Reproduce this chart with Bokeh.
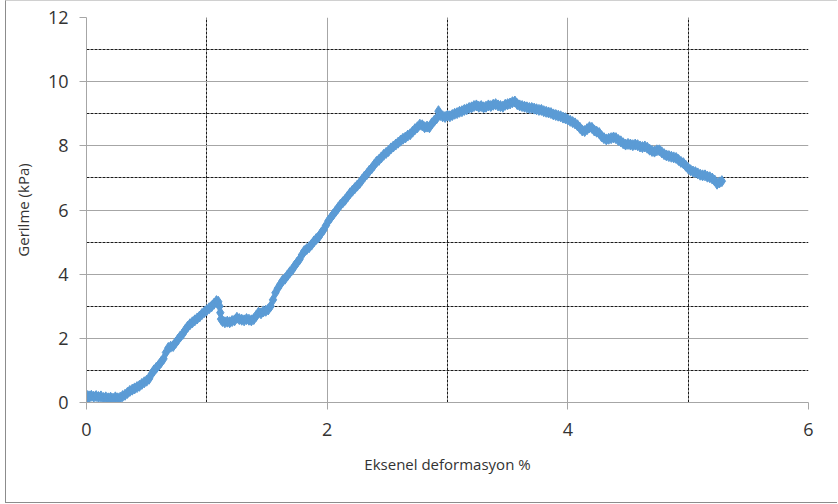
from bokeh.plotting import figure
from bokeh.models import FixedTicker, ColumnDataSource
from bokeh.embed import file_html
from bokeh.resources import INLINE

# Axial strain (%) and stress (kPa) readings
strain = [
    0.000, 0.010, 0.025, 0.040, 0.060, 0.080, 0.100, 0.120, 0.140, 0.160,
    0.180, 0.200, 0.220, 0.240, 0.260, 0.280, 0.300, 0.320, 0.340, 0.360,
    0.380, 0.400, 0.420, 0.440, 0.460, 0.480, 0.500, 0.520, 0.540, 0.560,
    0.580, 0.600, 0.620, 0.640, 0.660, 0.680, 0.700, 0.720, 0.740, 0.760,
    0.780, 0.800, 0.820, 0.840, 0.860, 0.880, 0.900, 0.920, 0.940, 0.960,
    0.980, 1.000, 1.020, 1.040, 1.060, 1.080, 1.095, 1.105, 1.112, 1.118,
    1.130, 1.150, 1.170, 1.190, 1.210, 1.230, 1.250, 1.270, 1.290, 1.310,
    1.330, 1.350, 1.370, 1.390, 1.410, 1.430, 1.450, 1.470, 1.490, 1.510,
    1.530, 1.550, 1.570, 1.590, 1.610, 1.630, 1.650, 1.670, 1.690, 1.710,
    1.730, 1.750, 1.770, 1.790, 1.810, 1.830, 1.850, 1.870, 1.890, 1.910,
    1.930, 1.950, 1.970, 1.990, 2.010, 2.030, 2.050, 2.070, 2.090, 2.110,
    2.130, 2.150, 2.170, 2.190, 2.210, 2.230, 2.250, 2.270, 2.290, 2.310,
    2.330, 2.350, 2.370, 2.390, 2.410, 2.430, 2.450, 2.470, 2.490, 2.510,
    2.530, 2.550, 2.570, 2.590, 2.610, 2.630, 2.650, 2.670, 2.690, 2.710,
    2.730, 2.750, 2.770, 2.790, 2.810, 2.830, 2.850, 2.870, 2.890, 2.910,
    2.925, 2.940, 2.960, 2.980, 3.000, 3.020, 3.040, 3.060, 3.080, 3.100,
    3.120, 3.140, 3.160, 3.180, 3.200, 3.220, 3.240, 3.260, 3.280, 3.300,
    3.320, 3.340, 3.360, 3.380, 3.400, 3.420, 3.440, 3.460, 3.480, 3.500,
    3.520, 3.540, 3.560, 3.580, 3.600, 3.620, 3.640, 3.660, 3.680, 3.700,
    3.720, 3.740, 3.760, 3.780, 3.800, 3.820, 3.840, 3.860, 3.880, 3.900,
    3.920, 3.940, 3.960, 3.980, 4.000, 4.020, 4.040, 4.060, 4.080, 4.100,
    4.120, 4.140, 4.160, 4.180, 4.200, 4.220, 4.240, 4.260, 4.280, 4.300,
    4.320, 4.340, 4.360, 4.380, 4.400, 4.420, 4.440, 4.460, 4.480, 4.500,
    4.520, 4.540, 4.560, 4.580, 4.600, 4.620, 4.640, 4.660, 4.680, 4.700,
    4.720, 4.740, 4.760, 4.780, 4.800, 4.820, 4.840, 4.860, 4.880, 4.900,
    4.920, 4.940, 4.960, 4.980, 5.000, 5.020, 5.040, 5.060, 5.080, 5.100,
    5.120, 5.140, 5.160, 5.180, 5.200, 5.220, 5.240, 5.260, 5.280,
]
stress = [
    0.02, 0.20, 0.19, 0.21, 0.18, 0.20, 0.17, 0.19, 0.14, 0.16,
    0.13, 0.15, 0.12, 0.16, 0.13, 0.15, 0.20, 0.24, 0.30, 0.36,
    0.40, 0.44, 0.48, 0.52, 0.58, 0.63, 0.68, 0.74, 0.88, 1.00,
    1.08, 1.16, 1.26, 1.36, 1.56, 1.70, 1.74, 1.76, 1.86, 1.96,
    2.06, 2.14, 2.26, 2.36, 2.44, 2.50, 2.56, 2.62, 2.68, 2.76,
    2.82, 2.88, 2.94, 3.00, 3.08, 3.16, 3.14, 3.00, 2.80, 2.60,
    2.54, 2.50, 2.52, 2.50, 2.54, 2.56, 2.64, 2.60, 2.58, 2.56,
    2.60, 2.58, 2.56, 2.60, 2.70, 2.80, 2.78, 2.84, 2.86, 2.90,
    3.00, 3.20, 3.42, 3.56, 3.68, 3.80, 3.86, 3.96, 4.06, 4.14,
    4.26, 4.36, 4.46, 4.60, 4.72, 4.78, 4.84, 4.92, 5.02, 5.10,
    5.16, 5.28, 5.38, 5.52, 5.66, 5.76, 5.86, 5.96, 6.06, 6.16,
    6.24, 6.32, 6.42, 6.52, 6.60, 6.68, 6.76, 6.84, 6.94, 7.04,
    7.12, 7.22, 7.30, 7.40, 7.50, 7.56, 7.64, 7.72, 7.78, 7.84,
    7.92, 7.98, 8.04, 8.10, 8.16, 8.22, 8.26, 8.32, 8.36, 8.44,
    8.52, 8.58, 8.66, 8.64, 8.58, 8.60, 8.58, 8.70, 8.78, 8.86,
    9.08, 8.96, 8.92, 8.90, 8.94, 8.92, 8.96, 9.00, 9.02, 9.06,
    9.08, 9.12, 9.14, 9.18, 9.20, 9.24, 9.26, 9.22, 9.24, 9.20,
    9.22, 9.26, 9.24, 9.28, 9.30, 9.26, 9.24, 9.22, 9.28, 9.30,
    9.32, 9.36, 9.38, 9.30, 9.26, 9.24, 9.22, 9.20, 9.18, 9.18,
    9.16, 9.14, 9.12, 9.12, 9.08, 9.06, 9.04, 9.02, 8.98, 8.96,
    8.94, 8.92, 8.88, 8.86, 8.82, 8.78, 8.74, 8.70, 8.64, 8.56,
    8.48, 8.46, 8.52, 8.58, 8.56, 8.48, 8.44, 8.40, 8.30, 8.24,
    8.20, 8.22, 8.24, 8.26, 8.24, 8.18, 8.14, 8.08, 8.04, 8.06,
    8.04, 8.02, 8.04, 8.02, 7.98, 7.96, 7.98, 7.94, 7.88, 7.84,
    7.82, 7.86, 7.86, 7.80, 7.74, 7.70, 7.68, 7.66, 7.64, 7.62,
    7.56, 7.50, 7.46, 7.38, 7.30, 7.24, 7.20, 7.18, 7.14, 7.10,
    7.08, 7.08, 7.04, 7.02, 6.98, 6.92, 6.82, 6.86, 6.90,
]

x_major = [0, 2, 4, 6]
x_minor = [1, 3, 5]
y_major = [0, 2, 4, 6, 8, 10, 12]
y_minor = [1, 3, 5, 7, 9, 11]

x_title = "Eksenel deformasyon %"
y_title = "Gerilme (kPa)"

FONT = "Open Sans"
TEXT = "#333333"
AXIS_GRAY = "#A6A6A6"
SERIES = "#5B9BD5"

p = figure(
    width=832, height=503,
    x_range=(0, 6), y_range=(0, 12),
    output_backend="svg", toolbar_location=None,
    min_border_left=80, min_border_right=30,
    min_border_top=16, min_border_bottom=102,
)
p.styles = {
    "margin-left": "5px",
    "border-left": "1px solid #8C8C8C",
    "border-top": "1px solid #D0D0D0",
    "border-bottom": "1px solid #8C8C8C",
}
p.outline_line_color = None
p.background_fill_color = "white"

x_ticker = FixedTicker(ticks=x_major, minor_ticks=x_minor)
y_ticker = FixedTicker(ticks=y_major, minor_ticks=y_minor)
p.xaxis.ticker = x_ticker
p.yaxis.ticker = y_ticker
p.xgrid.ticker = x_ticker
p.ygrid.ticker = y_ticker

for grid in (p.xgrid, p.ygrid):
    grid.grid_line_color = AXIS_GRAY
    grid.grid_line_alpha = 1.0
    grid.grid_line_dash = "solid"
    grid.grid_line_width = 1
    grid.minor_grid_line_color = "#1A1A1A"
    grid.minor_grid_line_dash = "3 1"
    grid.minor_grid_line_width = 1

for ax in (p.xaxis, p.yaxis):
    ax.axis_line_color = AXIS_GRAY
    ax.major_tick_line_color = AXIS_GRAY
    ax.major_tick_out = 7
    ax.major_tick_in = 0
    ax.minor_tick_line_color = None
    ax.major_label_text_font = FONT
    ax.major_label_text_font_size = "18px"
    ax.major_label_text_color = TEXT
    ax.axis_label_text_font = FONT
    ax.axis_label_text_font_size = "15px"
    ax.axis_label_text_font_style = "normal"
    ax.axis_label_text_color = TEXT

p.xaxis.axis_label = x_title
p.yaxis.axis_label = y_title
p.xaxis.major_label_standoff = 13
p.yaxis.major_label_standoff = 11
p.xaxis.axis_label_standoff = 15
p.yaxis.axis_label_standoff = 12

src = ColumnDataSource(data=dict(x=strain, y=stress))
p.scatter("x", "y", source=src, marker="diamond", size=11,
          fill_color=SERIES, line_color=SERIES, line_width=1)

open("out.html", "w").write(file_html(p, INLINE))
